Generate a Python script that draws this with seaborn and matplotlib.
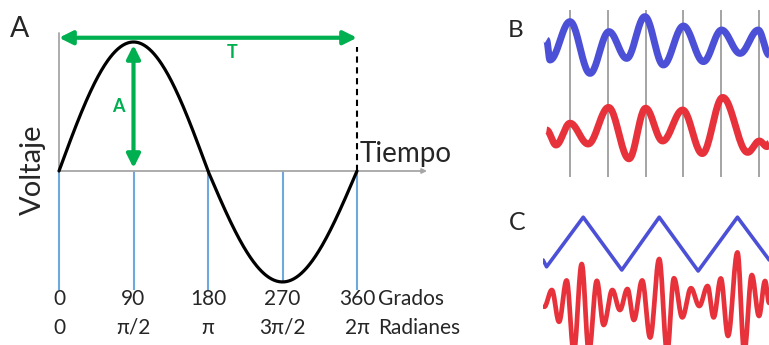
import numpy as np
import pandas as pd
import matplotlib
matplotlib.use("Agg")
import matplotlib.pyplot as plt
import seaborn as sns

# ---------------- data ----------------
# Panel A : one period of a sine wave
angle_deg = [0, 90, 180, 270, 360]
grados_labels = ["0", "90", "180", "270", "360"]
radianes_labels = ["0", "π/2", "π", "3π/2", "2π"]
amp_peak = 1.0        # positive half amplitude (as drawn)
amp_trough = 0.86     # negative half amplitude (as drawn)
period_deg = 360

# Panel B : two signals (extrema), grid lines at t = 1..6
b_grid_t = [1, 2, 3, 4, 5, 6]
b_blue_t = [0.38, 0.47, 1.00, 1.53, 2.03, 2.50, 2.98, 3.47, 4.00, 4.53, 5.01, 5.50, 5.98, 6.27]
b_blue_v = [0.25, -0.75, 1.17, -1.42, 0.67, -0.67, 1.42, -1.00, 0.95, -0.83, 0.75, -0.42, 0.75, -0.50]
b_red_t = [0.38, 0.63, 1.00, 1.48, 2.02, 2.56, 3.00, 3.45, 3.98, 4.50, 5.04, 5.70, 6.01, 6.21, 6.27]
b_red_v = [-0.10, -0.85, 0.24, -0.80, 1.03, -1.54, 0.99, -0.65, 0.90, -1.28, 1.53, -1.22, -0.65, -0.93, -0.77]

# Panel C : triangle-like wave and a noisy wave
c_blue_t = [0.29, 0.38, 1.35, 2.37, 3.36, 4.39, 5.43, 6.27]
c_blue_v = [-0.80, -1.14, 1.34, -1.30, 1.34, -1.35, 1.34, -0.80]
c_red_t = [0.32, 0.52, 0.71, 0.91, 1.10, 1.31, 1.50, 1.71, 1.89, 2.12, 2.32, 2.52,
           2.69, 2.91, 3.12, 3.36, 3.57, 3.75, 3.97, 4.20, 4.42, 4.64, 4.80, 4.99,
           5.18, 5.43, 5.61, 5.81, 6.00, 6.16, 6.27]
c_red_v = [-0.34, 0.50, -1.09, 0.98, -2.60, 1.80, -2.60, 0.96, -1.25, 0.50, -0.50, 0.55,
           -1.00, 0.98, -1.88, 2.05, -2.60, 1.09, -0.87, 0.59, -0.30, 0.70, -0.87, 1.08,
           -1.80, 2.38, -2.60, 1.25, -0.80, 0.95, -0.15]

# ---------------- style ----------------
sns.set_theme(style="white")
plt.rcParams["font.family"] = ["Lato", "DejaVu Sans"]

W, H = 769, 345
fig = plt.figure(figsize=(W / 100, H / 100), dpi=100)
fig.patch.set_facecolor("white")

GREEN = "#00B050"
LIGHTBLUE = "#6FA8DC"
GRAY = "#A6A6A6"
BLUE = "#4B50D6"
RED = "#E7323B"


def P(x, y):
    return (x / W, 1 - y / H)


def smooth(t, v, n=24):
    ts, vs = [], []
    for i in range(len(t) - 1):
        s = np.linspace(0, 1, n, endpoint=False)
        w = (1 - np.cos(np.pi * s)) / 2
        ts.append(t[i] + (t[i + 1] - t[i]) * s)
        vs.append(v[i] + (v[i + 1] - v[i]) * w)
    ts.append([t[-1]])
    vs.append([v[-1]])
    return np.concatenate(ts), np.concatenate(vs)


# ---------------- panel A ----------------
X0, X360, ZERO, UNIT = 59, 357, 171, 129   # layout (px)
s = (X360 - X0) / period_deg
axA = fig.add_axes([0, 0, 480 / W, 1])
axA.set_xlim(-X0 / s, (480 - X0) / s)
axA.set_ylim((ZERO - H) / UNIT, ZERO / UNIT)
axA.axis("off")

theta = np.arange(0, period_deg + 1)
v = np.sin(np.deg2rad(theta))
v = np.where(v > 0, v * amp_peak, v * amp_trough)
dfA = pd.DataFrame({"deg": theta, "V": v})

# blue tick lines
low = -0.922
ymins = [min(low, 0) if np.sin(np.deg2rad(a)) > -0.5 else -amp_trough for a in angle_deg]
axA.vlines(angle_deg, ymins, 0, color=LIGHTBLUE, lw=1.5, zorder=1)
# axes
axA.plot([0, 0], [0, 1.07], color=GRAY, lw=1.3, zorder=1)
axA.annotate("", xy=(444.6, 0), xytext=(0, 0),
             arrowprops=dict(arrowstyle="-|>", color=GRAY, lw=1.3, mutation_scale=7,
                             shrinkA=0, shrinkB=0), zorder=1)
# dashed period line
axA.plot([period_deg, period_deg], [0, 0.96], color="black", lw=1.5, ls=(0, (3, 2.2)), zorder=2)
# sine curve
sns.lineplot(data=dfA, x="deg", y="V", ax=axA, color="black", lw=2.3, sort=False,
             estimator=None, zorder=3)
# green arrows
axA.annotate("", xy=(0, 1.033), xytext=(period_deg, 1.033),
             arrowprops=dict(arrowstyle="<|-|>", color=GREEN, lw=3, mutation_scale=20,
                             shrinkA=0, shrinkB=0), zorder=4)
axA.annotate("", xy=(90, 0.023), xytext=(90, amp_peak * 0.977),
             arrowprops=dict(arrowstyle="<|-|>", color=GREEN, lw=3, mutation_scale=20,
                             shrinkA=0, shrinkB=0), zorder=4)
fig.text(*P(232, 53), "T", color=GREEN, fontsize=13, fontweight="bold", ha="center", va="center")
fig.text(*P(118, 107), "A", color=GREEN, fontsize=13, fontweight="bold", ha="center", va="center")

# labels
fig.text(*P(10, 37), "A", fontsize=20.5, ha="left", va="baseline")
fig.text(*P(32.5, 170), "Voltaje", fontsize=21, rotation=90, ha="center", va="center")
fig.text(*P(360, 162), "Tiempo", fontsize=20, ha="left", va="baseline")
for a, g, r in zip(angle_deg, grados_labels, radianes_labels):
    axA.text(a, (ZERO - 305) / UNIT, g, fontsize=15, ha="center", va="baseline")
    axA.text(a, (ZERO - 334) / UNIT, r, fontsize=15, ha="center", va="baseline")
fig.text(*P(378, 305), "Grados", fontsize=15, ha="left", va="baseline")
fig.text(*P(378, 334), "Radianes", fontsize=15, ha="left", va="baseline")

# ---------------- panel B ----------------
T0, TU, VU = 532.2, 37.8, 20       # layout (px)
B_RED0, B_BLUE_OFF = 128, (128 - 45) / VU
axB = fig.add_axes([543 / W, 1 - 182 / H, (W - 543) / W, 182 / H])
axB.set_xlim((543 - T0) / TU, (W - T0) / TU)
axB.set_ylim((B_RED0 - 182) / VU, B_RED0 / VU)
axB.axis("off")
axB.vlines(b_grid_t, (B_RED0 - 177) / VU, (B_RED0 - 10) / VU, color="#8C8C8C", lw=1.1, zorder=1)
tb, vb = smooth(b_blue_t, b_blue_v)
sns.lineplot(x=tb, y=vb + B_BLUE_OFF, ax=axB, color=BLUE, lw=5, sort=False, estimator=None,
             solid_capstyle="butt", zorder=3)
tr, vr = smooth(b_red_t, b_red_v)
sns.lineplot(x=tr, y=vr, ax=axB, color=RED, lw=5, sort=False, estimator=None,
             solid_capstyle="butt", zorder=3)
fig.text(*P(508, 37), "B", fontsize=17.5, ha="left", va="baseline")

# ---------------- panel C ----------------
C_RED0, C_BLUE_OFF = 300, (300 - 244) / VU
axC = fig.add_axes([543 / W, 0, (W - 543) / W, (H - 190) / H])
axC.set_xlim((543 - T0) / TU, (W - T0) / TU)
axC.set_ylim((C_RED0 - H) / VU, (C_RED0 - 190) / VU)
axC.axis("off")
sns.lineplot(x=c_blue_t, y=np.array(c_blue_v) + C_BLUE_OFF, ax=axC, color=BLUE, lw=2.6,
             sort=False, estimator=None, solid_joinstyle="round", zorder=3)
tc, vc = smooth(c_red_t, c_red_v, n=16)
sns.lineplot(x=tc, y=vc, ax=axC, color=RED, lw=3.4, sort=False, estimator=None, zorder=3)
fig.text(*P(509, 230), "C", fontsize=18, ha="left", va="baseline")

fig.savefig("out.png", dpi=100, facecolor="white")
